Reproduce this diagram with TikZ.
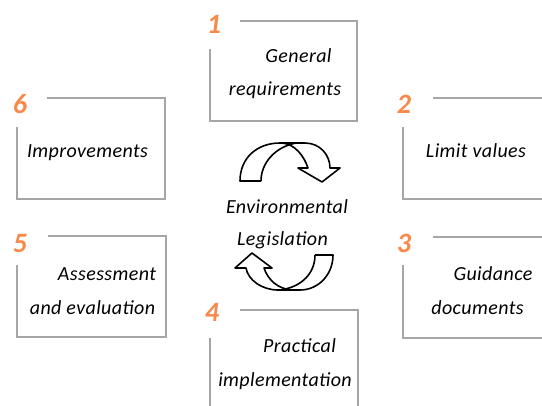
\documentclass[tikz,border=0pt]{standalone}
\usepackage{fontspec}
\setmainfont{Carlito}
\definecolor{numorange}{HTML}{F7894A}
\definecolor{boxgray}{HTML}{A6A6A6}
\begin{document}
\begin{tikzpicture}[x=0.75pt,y=-0.75pt,
  boxline/.style={draw=boxgray,line width=0.8pt},
  arrowline/.style={draw=black,line width=1.2pt,line join=round},
  lbl/.style={anchor=base,inner sep=0pt,font=\fontsize{15}{18}\selectfont\itshape\addfontfeatures{LetterSpace=2}},
  num/.style={anchor=base,inner sep=0pt,text=numorange,font=\fontsize{21}{25}\selectfont\bfseries\itshape}]
\useasboundingbox (0,0) rectangle (542,405);
\clip (0,0) rectangle (542,405);
% boxes
\draw[boxline] (240,21) -- (357,21) -- (357,121) -- (210,121) -- (210,49);
\draw[boxline] (433,98) -- (560,98) -- (560,199) -- (403,199) -- (403,127);
\draw[boxline] (433,237) -- (560,237) -- (560,338) -- (403,338) -- (403,265);
\draw[boxline] (240,310) -- (358,310) -- (358,420) (210,420) -- (210,338);
\draw[boxline] (48,236) -- (166,236) -- (166,337) -- (17,337) -- (17,265);
\draw[boxline] (47,98) -- (165,98) -- (165,199) -- (17,199) -- (17,127);
% numbers
\node[num] (n1) at (214,33) {1};
\node[num] (n2) at (404,113) {2};
\node[num] (n3) at (404,252) {3};
\node[num] (n4) at (212,321) {4};
\node[num] (n5) at (20,252) {5};
\node[num] (n6) at (20,113) {6};
% labels
\node[lbl] (t1a) at (298.5,62) {General};
\node[lbl] (t1b) at (285,95) {requirements};
\node[lbl] (t2) at (476,157) {Limit values};
\node[lbl] (t3a) at (493,280) {Guidance};
\node[lbl] (t3b) at (477.5,314) {documents};
\node[lbl] (t4a) at (299.5,352) {Practical};
\node[lbl] (t4b) at (285,386) {implementation};
\node[lbl] (t5a) at (107,280) {Assessment};
\node[lbl] (t5b) at (92.5,314) {and evaluation};
\node[lbl] (t6) at (87.5,157) {Improvements};
\node[lbl] (c1) at (287,213) {Environmental};
\node[lbl] (c2) at (282.5,245) {Legislation};
% upper cycle arrow
\draw[arrowline,fill=white] (261,181) -- (240,181) .. controls (240,158) and (257,143) .. (280,143) -- (305,143) .. controls (320,143) and (330,155) .. (330,168) -- (340,168) -- (322,182) -- (298,168) -- (308,168) .. controls (304,156) and (295,144) .. (282,143);
\draw[arrowline] (261,181) .. controls (261,163) and (275,147) .. (296,143);
% lower cycle arrow
\draw[arrowline,fill=white] (315,255) -- (333,255) .. controls (333,275) and (318,290) .. (300,290) -- (278,290) .. controls (262,290) and (248,280) .. (246,268) -- (235,268) -- (252,253) -- (272,268) -- (264,268) .. controls (268,280) and (278,289) .. (292,290);
\draw[arrowline] (315,255) .. controls (315,273) and (302,287) .. (280,290);
\end{tikzpicture}
\end{document}
